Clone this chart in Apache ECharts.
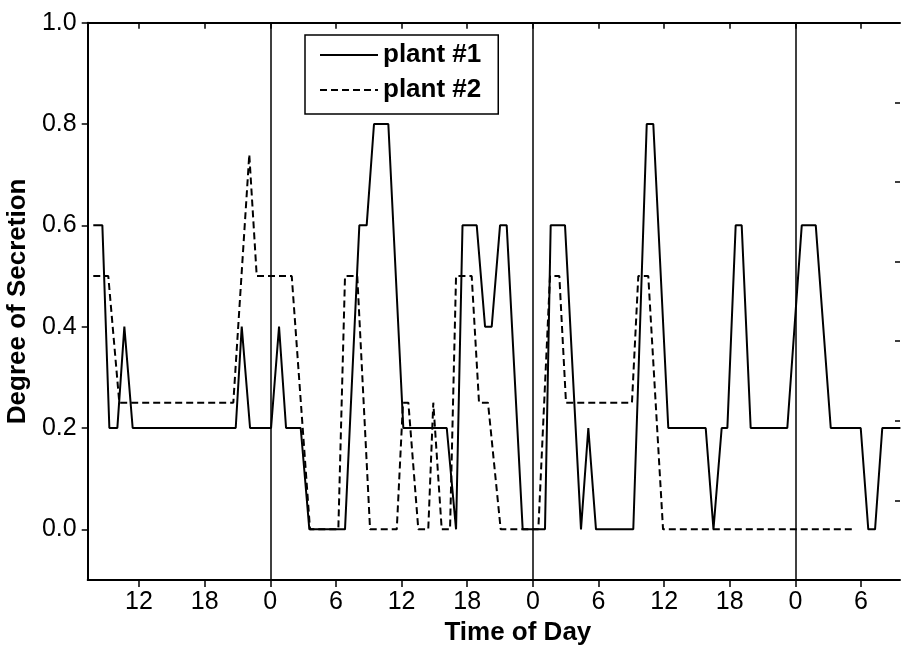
<!DOCTYPE html>
<html><head><meta charset="utf-8">
<script src="https://cdn.jsdelivr.net/npm/echarts@6/dist/echarts.min.js"></script>
<style>html,body{margin:0;padding:0;background:#fff}#c{width:901px;height:646px}</style>
</head><body><div id="c"></div>
<script>
// hours counted continuously from the first midnight shown before the record
const xTickHours = [12, 18, 24, 30, 36, 42, 48, 54, 60, 66, 72, 78];
const yTicks = [0, 0.2, 0.4, 0.6, 0.8, 1.0];
const midnights = [24, 48, 72];

const plant1Hours = [7.82, 8.65, 9.29, 10.02, 10.66, 11.42, 20.84, 21.39, 22.15, 24.07, 24.80, 25.44, 26.78, 27.57, 30.83, 32.14, 32.81, 33.48, 34.79, 36.16, 40.13, 40.98, 41.57, 42.87, 43.63, 44.24, 45.00, 45.61, 47.07, 49.11, 49.63, 50.94, 52.40, 53.07, 53.77, 57.18, 58.41, 59.01, 60.38, 63.80, 64.51, 65.26, 65.78, 66.54, 67.09, 67.91, 71.26, 72.58, 73.86, 75.23, 77.97, 78.66, 79.28, 79.94, 81.6];
const plant1Values = [0.6, 0.6, 0.2, 0.2, 0.4, 0.2, 0.2, 0.4, 0.2, 0.2, 0.4, 0.2, 0.2, 0.0, 0.0, 0.6, 0.6, 0.8, 0.8, 0.2, 0.2, 0.0, 0.6, 0.6, 0.4, 0.4, 0.6, 0.6, 0.0, 0.0, 0.6, 0.6, 0.0, 0.2, 0.0, 0.0, 0.8, 0.8, 0.2, 0.2, 0.0, 0.2, 0.2, 0.6, 0.6, 0.2, 0.2, 0.6, 0.6, 0.2, 0.2, 0.0, 0.0, 0.2, 0.2];

const plant2Hours = [7.82, 9.19, 10.20, 20.62, 22.08, 22.76, 25.96, 27.63, 30.22, 30.83, 31.95, 33.12, 35.56, 36.13, 36.62, 37.53, 38.44, 38.90, 39.67, 40.43, 40.98, 42.41, 43.08, 43.90, 45.06, 48.50, 49.57, 50.42, 51.03, 57.06, 57.64, 58.55, 59.90, 77.29];
const plant2Values = [0.5, 0.5, 0.25, 0.25, 0.74, 0.5, 0.5, 0.0, 0.0, 0.5, 0.5, 0.0, 0.0, 0.25, 0.25, 0.0, 0.0, 0.25, 0.0, 0.0, 0.5, 0.5, 0.25, 0.25, 0.0, 0.0, 0.5, 0.5, 0.25, 0.25, 0.5, 0.5, 0.0, 0.0];

const FONT = "'Liberation Sans', Arial, Helvetica, sans-serif";
const zip = (a, b) => a.map((v, i) => [v, b[i]]);

const chart = echarts.init(document.getElementById('c'), null, {renderer: 'canvas'});
chart.setOption({
  animation: false,
  backgroundColor: '#fff',
  grid: {left: 87.7, right: 1, top: 22.7, bottom: 66, containLabel: false, outerBoundsMode: 'none'},
  legend: {
    orient: 'vertical', left: 305, top: 35,
    itemWidth: 58, itemHeight: 14, itemGap: 9,
    padding: [7, 17, 11, 14],
    borderColor: '#000', borderWidth: 1.5,
    itemStyle: {opacity: 0},
    textStyle: {fontFamily: FONT, fontSize: 26, fontWeight: 'bold', color: '#000'},
    data: ['plant #1', 'plant #2']
  },
  xAxis: [{
    type: 'value', position: 'bottom', min: 7.31, max: 81.56,
    axisLine: {show: true, onZero: false, lineStyle: {color: '#000', width: 2}},
    axisTick: {show: true, inside: false, length: 7, lineStyle: {color: '#000', width: 1.5}, customValues: xTickHours},
    axisLabel: {show: true, customValues: xTickHours, formatter: v => String(v % 24), fontFamily: FONT, fontSize: 25, color: '#000', margin: 10},
    splitLine: {show: false},
    name: 'Time of Day', nameLocation: 'middle', nameGap: 40,
    nameTextStyle: {fontFamily: FONT, fontSize: 26, fontWeight: 'bold', color: '#000', padding: [0, 0, 0, 48]}
  }, {
    type: 'value', position: 'top', min: 7.31, max: 81.56,
    axisLine: {show: true, onZero: false, lineStyle: {color: '#000', width: 2}},
    axisTick: {show: true, inside: true, length: 6, lineStyle: {color: '#000', width: 1.5}, customValues: xTickHours},
    axisLabel: {show: false},
    splitLine: {show: false}
  }],
  yAxis: [{
    type: 'value', position: 'left', min: -0.1, max: 1.0,
    axisLine: {show: true, onZero: false, lineStyle: {color: '#000', width: 2}},
    axisTick: {show: true, inside: false, length: 6, lineStyle: {color: '#000', width: 1.5}, customValues: yTicks},
    axisLabel: {show: true, customValues: yTicks, formatter: v => v.toFixed(1), fontFamily: FONT, fontSize: 25, color: '#000', margin: 11},
    splitLine: {show: false},
    name: 'Degree of Secretion', nameLocation: 'middle', nameRotate: 90, nameGap: 52,
    nameTextStyle: {fontFamily: FONT, fontSize: 26, fontWeight: 'bold', color: '#000'}
  }, {
    type: 'value', position: 'right', min: 0, max: 7, interval: 1,
    axisLine: {show: false, onZero: false},
    axisTick: {show: true, inside: true, length: 5, lineStyle: {color: '#000', width: 1.5}},
    axisLabel: {show: false},
    splitLine: {show: false}
  }],
  series: [{
    name: 'plant #1', type: 'line', xAxisIndex: 0, yAxisIndex: 0,
    data: zip(plant1Hours, plant1Values),
    symbol: 'none', lineStyle: {color: '#000', width: 2, type: 'solid'}, itemStyle: {color: '#000'},
    markLine: {
      silent: true, symbol: ['none', 'none'], label: {show: false},
      lineStyle: {color: '#000', width: 1.5, type: 'solid'},
      data: midnights.map(h => ({xAxis: h}))
    }
  }, {
    name: 'plant #2', type: 'line', xAxisIndex: 0, yAxisIndex: 0,
    data: zip(plant2Hours, plant2Values),
    symbol: 'none', lineStyle: {color: '#000', width: 2, type: [7, 4]}, itemStyle: {color: '#000'}
  }]
});
</script></body></html>
